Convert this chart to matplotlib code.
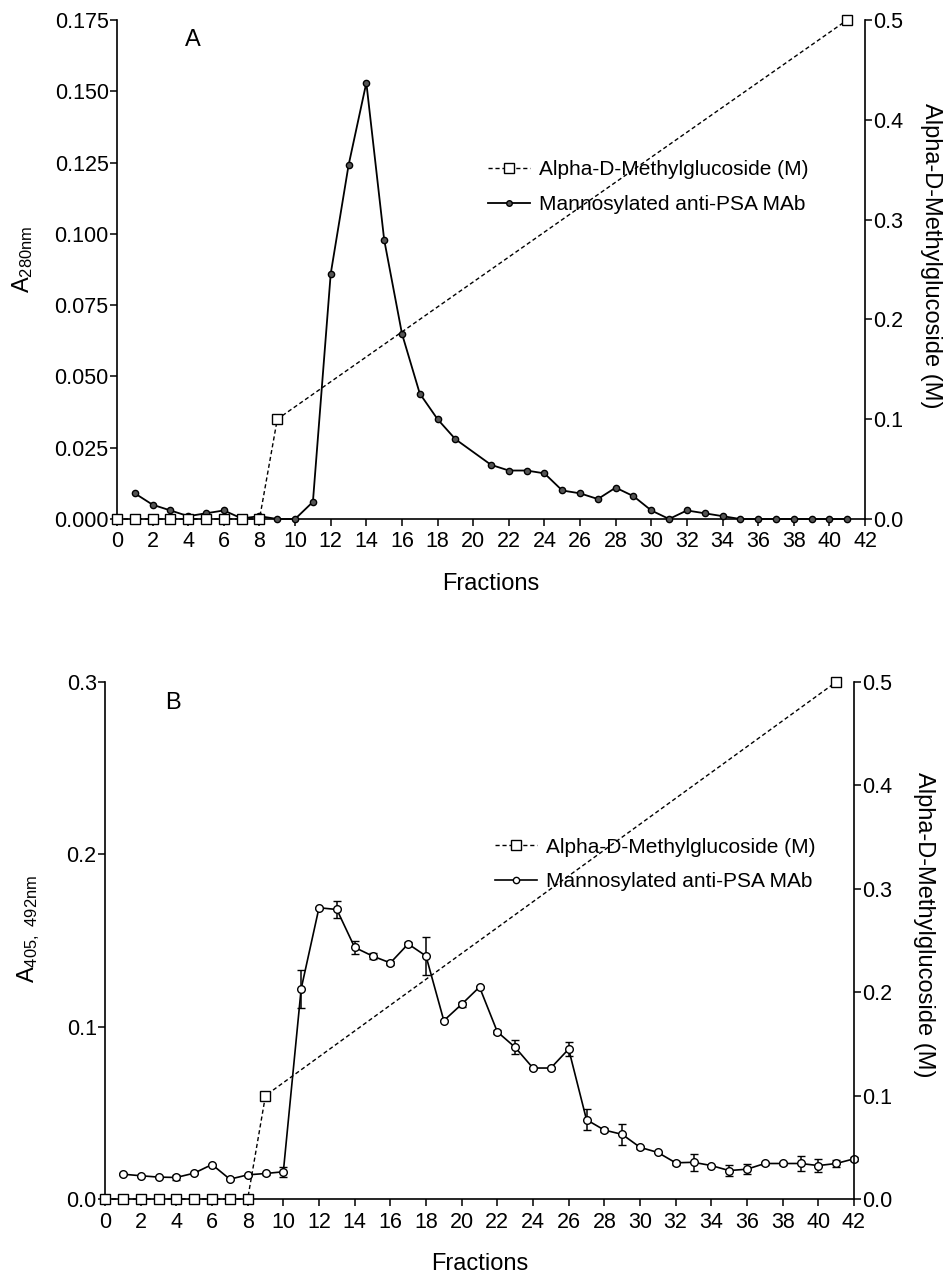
import matplotlib
matplotlib.use("Agg")
import matplotlib.pyplot as plt
from matplotlib.lines import Line2D
import numpy as np

plt.rcParams['font.family'] = ['Liberation Sans', 'DejaVu Sans']
plt.rcParams['mathtext.default'] = 'regular'

# glucoside gradient (right axis, M), same for both panels
glu_x = [0, 1, 2, 3, 4, 5, 6, 7, 8, 9, 41]
glu_y = [0, 0, 0, 0, 0, 0, 0, 0, 0, 0.1, 0.5]

# panel A: A280nm (no reading at fraction 20)
a_x = [1, 2, 3, 4, 5, 6, 7, 8, 9, 10, 11, 12, 13, 14, 15, 16, 17, 18, 19,
       21, 22, 23, 24, 25, 26, 27, 28, 29, 30, 31, 32, 33, 34, 35, 36, 37, 38, 39, 40, 41]
a_y = [0.009, 0.005, 0.003, 0.001, 0.002, 0.003, 0.0002, 0.001, 0.0, 0.0, 0.006,
       0.086, 0.124, 0.153, 0.098, 0.065, 0.044, 0.035, 0.028,
       0.019, 0.017, 0.017, 0.016, 0.010, 0.009, 0.007, 0.011, 0.008, 0.003, 0.0,
       0.003, 0.002, 0.001, 0, 0, 0, 0, 0, 0, 0]

# panel B: A405,492nm with error bars
b_x = list(range(1, 43))
b_y = [0.0144, 0.0135, 0.0127, 0.0125, 0.015, 0.020, 0.0115, 0.014, 0.0148, 0.0158,
       0.122, 0.169, 0.168, 0.146, 0.141, 0.137, 0.148, 0.141, 0.1035, 0.113,
       0.123, 0.097, 0.088, 0.076, 0.076, 0.087, 0.046, 0.040, 0.0375, 0.030,
       0.027, 0.021, 0.0213, 0.0194, 0.0165, 0.0173, 0.0206, 0.0206, 0.0206, 0.0194,
       0.0206, 0.0233]
b_err = [0.0005, 0.0005, 0.0005, 0.0015, 0.0005, 0.0005, 0.0005, 0.0005, 0.001, 0.003,
         0.011, 0.0005, 0.005, 0.004, 0.002, 0.001, 0.001, 0.011, 0.0005, 0.0015,
         0.0005, 0.001, 0.004, 0.0005, 0.0005, 0.004, 0.006, 0.001, 0.006, 0.001,
         0.0005, 0.001, 0.005, 0.0005, 0.003, 0.003, 0.001, 0.001, 0.0045, 0.004,
         0.0023, 0.001]

fig = plt.figure(figsize=(9.49, 12.74), dpi=100)
axA = fig.add_axes([117/949, 1-519/1274, 748/949, 499/1274])
axB = fig.add_axes([105/949, 1-1199/1274, 749/949, 517/1274])

tick_fs = 15.5
lab_fs = 17
leg_fs = 15


def style(ax, ax2, ymax, yticks, yfmt):
    ax.set_xlim(0, 42)
    ax.set_ylim(0, ymax)
    ax.set_xticks(range(0, 43, 2))
    ax.set_yticks(yticks)
    ax.set_yticklabels([yfmt.format(t) for t in yticks])
    ax2.set_ylim(0, 0.5)
    ax2.set_yticks([0, 0.1, 0.2, 0.3, 0.4, 0.5])
    ax2.set_yticklabels(['0.0', '0.1', '0.2', '0.3', '0.4', '0.5'])
    for s in ['top', 'right']:
        ax.spines[s].set_visible(False)
    for s in ['top', 'left', 'bottom']:
        ax2.spines[s].set_visible(False)
    for a in (ax, ax2):
        for s in a.spines.values():
            s.set_linewidth(1.2)
        a.tick_params(direction='out', length=5, width=1.1, labelsize=tick_fs, pad=1)
    ax.tick_params(axis='x', pad=4)
    ax.set_xlabel('Fractions', fontsize=lab_fs)
    ax2.set_ylabel('Alpha-D-Methylglucoside (M)', fontsize=lab_fs, rotation=270)


# ---- panel A
axA2 = axA.twinx()
style(axA, axA2, 0.175, [0, 0.025, 0.05, 0.075, 0.1, 0.125, 0.15, 0.175], '{:.3f}')
axA.plot(a_x, a_y, '-o', color='black', lw=1.3, ms=4.5, mfc='#555555', mec='black',
         clip_on=False, zorder=3)
axA2.plot(glu_x, glu_y, linestyle=(0, (3, 2)), color='black', lw=1, marker='s', ms=7.5,
          mfc='white', mec='black', mew=1, clip_on=False)
axA.set_ylabel('$A_{280nm}$', fontsize=lab_fs)
axA.yaxis.set_label_coords(-0.110, 0.52)
axA.xaxis.set_label_coords(0.5, -0.108)
axA2.yaxis.set_label_coords(1.103, 0.527)
axA.text(0.102, 0.96, 'A', transform=axA.transAxes, fontsize=lab_fs, ha='center', va='center')

h1 = Line2D([], [], linestyle=(0, (3, 2)), color='black', lw=1, marker='s', ms=7,
            mfc='white', mec='black')
h2 = Line2D([], [], linestyle='-', color='black', lw=1.3, marker='o', ms=4,
            mfc='#555555', mec='black')
axA2.legend([h1, h2], ['Alpha-D-Methylglucoside (M)', 'Mannosylated anti-PSA MAb'],
            loc='center left', bbox_to_anchor=(0.496, 0.665), frameon=False,
            fontsize=leg_fs, handlelength=2.0, handletextpad=0.45, labelspacing=0.75,
            borderpad=0, borderaxespad=0)

# ---- panel B
axB2 = axB.twinx()
style(axB, axB2, 0.3, [0, 0.1, 0.2, 0.3], '{:.1f}')
axB.errorbar(b_x, b_y, yerr=b_err, fmt='-o', color='black', lw=1.2, ms=5.5,
             mfc='white', mec='black', mew=1, capsize=3, elinewidth=1.1, capthick=1.1,
             clip_on=False, zorder=3)
axB2.plot(glu_x, glu_y, linestyle=(0, (3, 2)), color='black', lw=1, marker='s', ms=7.5,
          mfc='white', mec='black', mew=1, clip_on=False)
axB.set_ylabel('$A_{405,\\ 492nm}$', fontsize=lab_fs)
axB.yaxis.set_label_coords(-0.084, 0.523)
axB.xaxis.set_label_coords(0.5, -0.104)
axB2.yaxis.set_label_coords(1.108, 0.53)
axB.text(0.091, 0.959, 'B', transform=axB.transAxes, fontsize=lab_fs, ha='center', va='center')

h3 = Line2D([], [], linestyle='-', color='black', lw=1.2, marker='o', ms=4.5,
            mfc='white', mec='black')
axB2.legend([h1, h3], ['Alpha-D-Methylglucoside (M)', 'Mannosylated anti-PSA MAb'],
            loc='center left', bbox_to_anchor=(0.521, 0.647), frameon=False,
            fontsize=leg_fs, handlelength=2.0, handletextpad=0.45, labelspacing=0.75,
            borderpad=0, borderaxespad=0)

fig.savefig('out.png', dpi=100)
